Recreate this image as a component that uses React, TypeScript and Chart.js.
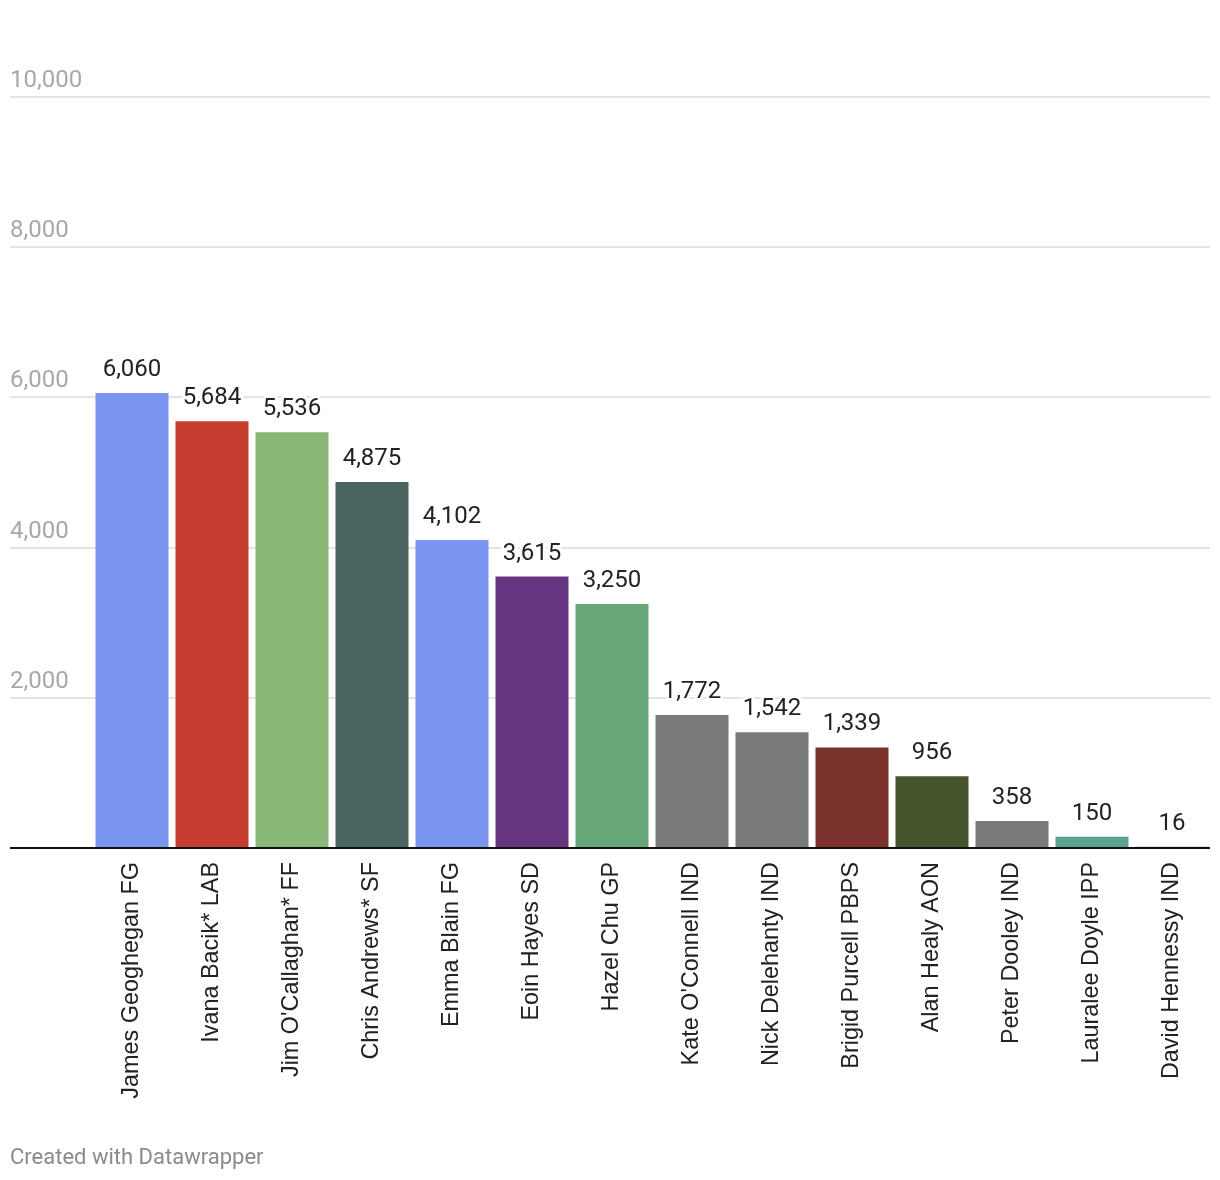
import React, { useEffect, useRef } from "react";
import { Chart, registerables } from "chart.js";

Chart.register(...registerables);

const candidates = [
  "James Geoghegan FG",
  "Ivana Bacik* LAB",
  "Jim O'Callaghan* FF",
  "Chris Andrews* SF",
  "Emma Blain FG",
  "Eoin Hayes SD",
  "Hazel Chu GP",
  "Kate O'Connell IND",
  "Nick Delehanty IND",
  "Brigid Purcell PBPS",
  "Alan Healy AON",
  "Peter Dooley IND",
  "Lauralee Doyle IPP",
  "David Hennessy IND",
];

const votes = [6060, 5684, 5536, 4875, 4102, 3615, 3250, 1772, 1542, 1339, 956, 358, 150, 16];

const barColors = [
  "#7a96ef",
  "#c53e2f",
  "#89b777",
  "#48665f",
  "#7a96ef",
  "#663682",
  "#68a878",
  "#7a7a7a",
  "#7a7a7a",
  "#7b322c",
  "#45542c",
  "#7a7a7a",
  "#5ba090",
  "#7a7a7a",
];

const yTicks = [0, 2000, 4000, 6000, 8000, 10000];

const fmt = (v: number) => v.toLocaleString("en-US");

const overlayPlugin = {
  id: "dwOverlay",
  beforeDatasetsDraw(chart: any) {
    const ctx = chart.ctx;
    const y = chart.scales.y;
    ctx.save();
    ctx.font = "24px Roboto";
    ctx.textAlign = "left";
    ctx.textBaseline = "alphabetic";
    yTicks.forEach((t) => {
      const py = Math.round(y.getPixelForValue(t));
      if (t !== 0) {
        ctx.strokeStyle = "#e4e4e4";
        ctx.lineWidth = 2;
        ctx.beginPath();
        ctx.moveTo(10, py);
        ctx.lineTo(1210, py);
        ctx.stroke();
        ctx.fillStyle = "#a8a8a8";
        ctx.fillText(fmt(t), 10, py - 10);
      }
    });
    ctx.restore();
  },
  afterDatasetsDraw(chart: any) {
    const ctx = chart.ctx;
    const y = chart.scales.y;
    const meta = chart.getDatasetMeta(0);
    ctx.save();
    const py0 = Math.round(y.getPixelForValue(0));
    ctx.strokeStyle = "#111111";
    ctx.lineWidth = 2;
    ctx.beginPath();
    ctx.moveTo(10, py0);
    ctx.lineTo(1210, py0);
    ctx.stroke();

    ctx.font = "24px Roboto";
    ctx.textAlign = "center";
    ctx.textBaseline = "alphabetic";
    ctx.lineJoin = "round";
    meta.data.forEach((bar: any, i: number) => {
      const txt = fmt(votes[i]);
      const ty = bar.y - 17;
      ctx.strokeStyle = "#ffffff";
      ctx.lineWidth = 6;
      ctx.strokeText(txt, bar.x, ty);
      ctx.fillStyle = "#222222";
      ctx.fillText(txt, bar.x, ty);
    });

    ctx.font = "22px Roboto";
    ctx.textAlign = "left";
    ctx.fillStyle = "#8a8a8a";
    ctx.fillText("Created with Datawrapper", 10, 1164);
    ctx.restore();
  },
};

export default function App() {
  const ref = useRef<HTMLCanvasElement | null>(null);

  useEffect(() => {
    if (!ref.current) return;
    const chart = new Chart(ref.current, {
      type: "bar",
      data: {
        labels: candidates,
        datasets: [
          {
            data: votes,
            backgroundColor: barColors,
            borderWidth: 0,
            barPercentage: 0.9125,
            categoryPercentage: 1,
          },
        ],
      },
      options: {
        responsive: false,
        animation: false,
        devicePixelRatio: 1,
        layout: { padding: { left: 92, right: 8, top: 97, bottom: 0 } },
        plugins: {
          legend: { display: false },
          tooltip: { enabled: false },
        },
        scales: {
          x: {
            grid: { display: false, drawTicks: false },
            border: { display: false },
            ticks: {
              autoSkip: false,
              minRotation: 90,
              maxRotation: 90,
              padding: 14,
              color: "#222222",
              font: { family: "'Liberation Sans', Arial, sans-serif", size: 23.4 },
            },
            afterFit: (scale: any) => {
              scale.height = 332;
            },
          },
          y: {
            display: false,
            min: 0,
            max: 10000,
          },
        },
      },
      plugins: [overlayPlugin],
    });
    return () => chart.destroy();
  }, []);

  return (
    <div style={{ position: "fixed", left: 0, top: 0, width: 1220, height: 1180, background: "#fff" }}>
      <canvas ref={ref} width={1220} height={1180} style={{ display: "block", width: 1220, height: 1180 }} />
    </div>
  );
}
